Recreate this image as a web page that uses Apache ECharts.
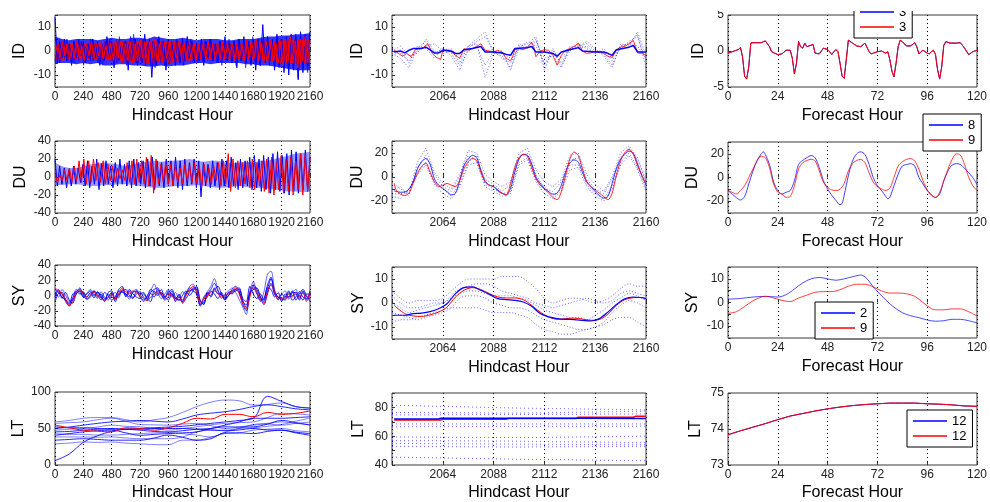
<!DOCTYPE html>
<html><head><meta charset="utf-8">
<script src="https://cdn.jsdelivr.net/npm/echarts@6/dist/echarts.min.js"></script>
<style>html,body{margin:0;padding:0;background:#fff}#c{width:990px;height:502px}</style>
</head><body><div id="c"></div>
<script>
// ---------------- DATA ----------------
// Column 1 (hindcast 0-2160 h), evenly spaced samples
const idHindBlue = [14,-5,4,-3,5,-4,3,-6,4,-3,5,-2,4,-5,3,-4,5,-3,4,-6,3,-4,6,-3,4,-7,5,-4,3,-5,4,-8,6,-4,5,-6,3,-5,7,-4,5,-11,4,-6,6,-5,4,-8,5,-4,3,-6,4,-5,5,-4,6,-3,4,-5,3,-4,5,-6,4,-3,5,-4,3,-5,4,-3,6,-4,3,-5,4,-7,5,-4,6,-5,4,-6,5,-8,5,-6,11,-5,6,-4,5,-8,7,-6,5,-9,6,-10,7,-8,6,-12,8,-9,7,-6,8];
const idHindBlue2 = [-4,3,-5,4,-3,5,-4,2,-5,3,-4,4,-6,2,-3,5,-4,3,-5,2,-6,4,-3,5,-4,3,-5,6,-3,4,-6,3,-4,7,-5,3,-4,5,-6,3,-5,4,-7,5,-3,4,-6,3,-5,4,-3,5,-4,3,-6,4,-3,5,-4,2,-5,3,-4,4,-3,5,-4,3,-5,4,-6,3,-4,5,-3,4,-6,5,-4,3,-7,4,-5,6,-4,5,-6,4,-5,3,-6,5,-4,6,-7,5,-6,4,-8,6,-5,7,-11,5,-7,6,-9,5];
const idHindRed = [-2,3,-3,4,-2,3,-4,2,-3,4,-3,2,-4,3,-2,4,-3,3,-2,4,-3,2,-3,3,-4,5,-3,4,-5,3,-4,4,-5,3,-4,5,-3,4,-5,4,-3,5,-4,3,-5,4,-3,4,-5,3,-3,4,-2,3,-3,2,-3,3,-4,3,-2,3,-3,4,-2,3,-3,2,-3,4,-3,2,-2,3,-4,2,-3,3,-4,5,-3,4,-3,5,-4,3,-5,4,-3,5,-4,3,-5,4,-6,5,-4,6,-5,4,-7,5,-4,6,-5,4];
// ID hindcast envelopes, every 60 h
const idBlueUpper = [6,5,4.5,5,5,5,4.5,5,5.5,5,5,5.5,5.5,5,6,5.5,5,5,5.5,5,4.5,5,5,5,4.5,4.5,5,5,5,5.5,6,6,6.5,6.5,7,7,7.5];
const idBlueLower = [-5,-5,-5,-5.5,-5,-5.5,-5,-6,-6,-5.5,-5.5,-6,-6,-6.5,-6.5,-6,-6.5,-6,-6,-5.5,-5,-5,-5.5,-5,-5,-5,-5,-5.5,-5.5,-6,-6,-6.5,-7,-7.5,-8,-8,-8];
const idRedUpper = [3.5,3,3,3.5,3,3.5,3,3.5,3.5,3.5,4,4,4,4,4.5,4,4,4,3.5,3.5,3,3,3.5,3,3,3,3,3.5,3.5,4,4,4,4.5,4.5,4.5,5,4.5];
const idRedLower = [-3.5,-4,-3.5,-3.5,-3,-3.5,-3.5,-3.5,-4,-4,-4,-4.5,-4.5,-5,-5,-4.5,-5,-4.5,-4,-4,-3.5,-3.5,-3.5,-3,-3.5,-3,-3.5,-3.5,-4,-4,-4,-4.5,-5,-5,-5.5,-5.5,-5];
const duHindBlue = [20,-10,12,-8,10,-12,8,-10,12,-8,10,-6,14,-10,18,-12,12,-8,20,-14,15,-10,18,-8,12,-12,16,-10,20,-8,14,-10,18,-12,20,-10,16,-8,18,-12,20,-10,22,-14,18,-10,16,-12,20,-8,18,-10,22,-12,18,-14,20,-10,16,-8,20,-12,18,-22,16,-10,14,-12,18,-10,16,-14,20,-10,18,-12,22,-10,16,-14,20,-12,18,-10,22,-14,24,-12,20,-16,24,-14,22,-18,26,-14,28,-16,24,-18,26,-20,30,-16,28,-18,26,-14,30,-16,22];
const duHindRed = [4,-6,2,-4,8,-4,10,-6,12,-4,18,-6,20,-8,18,-6,20,-4,16,-6,18,-8,14,-4,12,-6,10,-2,8,-4,16,-6,18,-8,20,-6,18,-8,22,-10,24,-18,20,-8,14,-6,16,-8,14,-10,12,-6,10,-8,14,-4,12,-6,16,-8,12,-10,14,-6,10,-8,12,-4,16,-10,18,-8,26,-16,20,-12,18,-10,16,-8,18,-12,20,-14,16,-10,18,-16,20,-18,22,-20,16,-14,24,-18,20,-16,22,-20,18,-14,26,-20,24,-16,22];
// DU hindcast blue envelope, every 60 h
const duBlueUpper = [16,12,10,10,12,14,15,16,15,14,12,14,16,17,18,17,18,18,19,20,18,17,18,18,16,15,16,17,16,18,18,20,22,24,26,27,28];
const duBlueLower = [-9,-9,-8,-8,-9,-10,-10,-9,-9,-8,-8,-9,-10,-11,-12,-12,-11,-10,-10,-10,-9,-10,-11,-12,-12,-11,-10,-11,-12,-12,-13,-14,-15,-16,-16,-17,-16];
// SY hindcast, every 30 h
const syHindRed = [10,6,2,-5,-13,-8,5,8,2,-2,2,4,0,-3,-7,-3,2,-6,3,10,5,3,6,4,0,-4,-7,-2,2,5,3,-3,2,0,-6,-2,-9,0,8,12,5,-10,-5,0,4,6,3,-2,0,2,5,10,2,-10,-18,-2,12,5,-5,-10,5,14,5,-5,-3,-5,2,-2,4,-2,3,-6,4];
const syHindBlue = [
  [5,-2,8,0,-8,-3,8,4,-2,3,8,2,-4,5,-2,-6,0,4,-3,8,2,-5,5,8,-2,-8,0,6,15,4,-4,2,8,-2,4,-4,5,2,12,15,2,-12,-2,5,12,22,8,-4,2,6,10,4,-5,-15,-25,5,18,4,-8,5,28,32,8,-6,2,6,-5,4,8,-4,5,-8,2],
  [-8,3,4,-6,-12,2,4,10,0,-5,-2,6,2,-6,4,0,-6,-2,8,12,-2,6,-3,2,5,-2,-6,3,-2,8,2,-6,-2,6,-8,2,-10,-4,4,10,8,-14,-8,-2,6,2,-4,4,-4,0,8,12,6,-8,-12,2,8,10,-2,-12,2,16,2,-2,-6,-2,6,-6,-2,5,-2,-4,6],
  [2,8,-4,4,-6,-10,2,6,5,-2,4,-3,5,0,-8,4,6,-4,0,6,8,0,-4,6,2,4,-4,-8,6,2,8,-2,4,8,-2,-6,0,6,0,6,12,-6,-12,4,-2,8,12,2,-6,4,2,8,10,-4,-8,12,2,-4,2,-6,10,8,-2,4,-8,2,-2,6,-6,2,8,0,-8],
  [8,4,-2,-6,-10,-4,6,2,4,-4,0,6,-2,2,-4,-2,4,-8,2,6,0,8,2,-2,-4,2,-4,4,8,10,0,-4,6,2,-4,-6,-6,4,6,8,10,-8,-10,2,8,16,6,0,-2,4,6,8,4,-12,-20,0,14,8,-2,-8,8,22,6,-2,-4,-6,4,0,2,-6,6,-2,-4],
  [-2,6,2,-8,-14,-6,2,6,-2,2,6,0,4,-2,-6,2,-2,-4,6,4,2,-2,4,6,-2,-6,-2,8,4,0,4,-2,-6,2,-4,0,-8,2,10,6,2,-12,-4,2,0,10,2,2,-6,0,4,6,8,-6,-16,4,10,2,-6,-4,14,24,2,-4,2,-2,-2,4,4,0,-6,2,2]
];
// LT hindcast, every 120 h
const ltHours = [0,120,240,360,480,600,720,840,960,1080,1200,1320,1440,1560,1680,1800,1920,2040,2160];
const ltHindRed = [54.6,51,47.7,46.3,45.4,51,50,47.7,51,57,64,63,69.4,69.4,66,72,69.4,70.8,74];
const ltHindBlue = [
  [59,61,64,65,65,62,59,62,65,72,80,86,89,88,82,83,85,80,78],
  [6,15,31,40,46,49,50,51,52,53,55,57,59,61,64,94,87,80,78],
  [29,30,31.5,31,31.5,30,29,28,27.8,34,34,38,43,44,47.7,49,50,47,45.4],
  [34,35,36,35,34,34,34,37,41,38,34,36,44,44,43,46,47.7,45,43],
  [43,42,42,41,41,42,43,44,44.4,43,41,38.4,45,50,55.5,57,59,57,55.5],
  [50,52,54.6,57,59,60,61,60,59,63,68.5,71,73,76,80,82.4,80,77,75.5],
  [47.7,49,50,52,54.6,53,52.3,50,47.7,50,52.3,55,57,58,59,65,70.8,70,68.5],
  [40.7,43,45.4,47,47.7,44,40.7,42,43,44,45.4,50,54.6,59,64,64,64,65,66],
  [57,58,59,62,64,60,55.5,55,54.6,56,57,54,50,52,54.6,56,54.6,57,59],
  [45.4,46,47.7,49,50,49,47.7,46,45.4,47,49,50,52.3,52,52.3,56,61,58,54.6],
  [38.4,38.4,38.4,38,38.4,37,36,36,36,38.4,45.4,47.7,47.7,50,51,53,55.5,60,64],
  [52.3,51,51,50,49,49,49,50,50,50,49,48,47,48,50,48,47.7,44,40.7]
];
// Column 2 (last 120 h of hindcast)
const idZoomRedH = [2041,2043,2045,2047,2049,2051,2053,2055,2057,2059,2061,2063,2064,2066,2068,2070,2072,2074,2076,2078,2080,2082,2084,2086,2088,2090,2092,2094,2096,2097,2098,2100,2102,2104,2106,2107,2108,2110,2112,2114,2116,2118,2119,2120,2122,2124,2126,2128,2130,2132,2134,2136,2138,2140,2142,2144,2146,2148,2150,2152,2154,2156,2158,2160];
const idZoomRed = [0.3,-1,-2.2,-1,-2.4,0.5,1,1.6,3,-1,-2.7,-3.5,0.3,0.5,-0.4,-1.8,-3.1,1,0.3,1,1.9,3,0.3,0,-0.4,0.3,-0.4,-3.1,-4.1,-2.4,0.5,1,0.5,1.6,3.7,1.6,-2.4,0,0.5,0.3,-1.8,-5.9,-3.8,-1.8,0.3,1,1.9,3.3,0,-1,-0.8,0,-0.4,-1,-2.2,-2.7,0.5,1.6,1.9,3,4.4,-0.8,-1,-1.8];
const idZoomBlueH = [2041,2044,2046,2048,2050,2054,2056,2058,2060,2062,2064,2068,2070,2072,2074,2078,2082,2084,2088,2092,2094,2096,2098,2104,2106,2108,2112,2116,2118,2120,2124,2128,2130,2136,2140,2142,2144,2146,2152,2154,2156,2160];
const idZoomBlue = [-0.4,0,-0.8,0.3,1,1,1.6,0.5,-0.8,-0.8,0.3,0,-1,-1,0.5,1,1.9,-0.4,-0.4,-0.8,-1.4,-1.8,1,1.4,1.9,-0.4,-0.4,-1,-2.2,-0.4,0.5,1.4,0,-0.4,-0.4,-1,-1.8,0.5,1.6,2.3,-0.4,-0.4];
const ensHours = [2040,2044,2048,2052,2056,2060,2064,2068,2072,2076,2080,2084,2088,2092,2096,2100,2104,2108,2112,2116,2120,2124,2128,2132,2136,2140,2144,2148,2152,2156,2160];
const idZoomEns = [
  [1,-1,-4,0,2,3,0,1,-5,2,3,-11,-1,-2,-7,1,2,5,-6,-1,-5,1,2,3,0,-1,-6,2,3,7,-7],
  [-1,-3,-7,1,4,-1,1,-2,-8,1,4,6,0,-3,-5,2,3,6,-8,1,-6,0,3,1,-1,0,-4,1,4,6,-4],
  [0,2,-2,-1,5,0,-1,0,-3,2,5,8,-1,0,-8,3,1,4,-3,-2,-7,2,2,4,1,-2,-7,3,2,8,-2],
  [-2,0,-5,2,1,-3,1,-1,-6,0,2,-6,0,-1,-3,1,4,2,-5,0,-3,1,1,2,-1,1,-3,2,3,2,-3]
];
const duZoomH = [2041,2042,2044,2046,2048,2050,2052,2054,2056,2058,2060,2062,2064,2066,2068,2070,2072,2074,2076,2078,2080,2082,2084,2086,2088,2090,2092,2094,2096,2098,2100,2102,2104,2106,2108,2110,2112,2114,2116,2118,2120,2122,2124,2126,2128,2130,2132,2134,2136,2138,2140,2142,2144,2146,2148,2150,2152,2154,2156,2158,2160];
const duZoomRed = [-5.4,-11,-14.3,-15.4,-13.5,-5.4,2.7,8.9,11.6,4,-4,-8,-6.8,-5.4,-6.8,-8,-2.7,6.8,12.7,15.4,13.5,4,-4,-6.8,-8,-11.6,-13.5,-14.9,-5.4,8,16.2,18.9,17,8,-1.4,-6.8,-10,-13.5,-17,-18.9,-12.2,1.4,14.9,20.8,18,6.8,-4,-8,-10.8,-13.5,-16.2,-18.9,-13.5,1.4,13.5,20.3,23,18.9,9.5,1.4,-5.4];
const duZoomBlue = [-11.6,-12,-12.7,-12.5,-10,-4,6.8,12.7,15.4,10.8,-1.4,-6.8,-9.5,-12.2,-14.9,-13.5,-2.7,9.5,14.9,18,16.2,5.4,-3.5,-6.8,-8,-10.8,-13.5,-14.9,-9.5,4,14.9,18.9,18,10.8,0,-5.4,-9.5,-12.2,-14.3,-13.5,-6.8,4,11.6,14.3,12.2,4,-4,-8,-12.2,-15.4,-17.6,-16.2,-5.4,6.8,14.9,18.9,21.6,19.7,10.8,1.4,-6.8];
const duZoomEns = [
  [-4,-10,-14,12,24,4,-5,-10,2,22,20,2,-4,-8,-4,20,24,6,-4,-8,-2,18,20,2,-6,-12,0,20,26,16,-2],
  [-16,-18,-10,2,10,-6,-14,-18,-8,10,12,-8,-12,-16,-14,10,14,-4,-14,-18,-12,6,8,-8,-16,-20,-10,10,18,6,-12],
  [-10,-8,-16,8,18,2,-8,-12,0,18,14,-2,-6,-12,-6,16,20,2,-10,-12,-4,14,16,-2,-10,-14,-2,16,24,14,-4],
  [-14,-14,-12,4,12,-4,-10,-16,-6,12,18,-6,-10,-14,-12,12,16,-2,-8,-16,-10,10,10,-6,-14,-18,-8,12,20,8,-10]
];
const syZoomH = [2041,2046,2050,2054,2058,2062,2066,2070,2074,2078,2082,2086,2090,2094,2098,2102,2106,2110,2114,2118,2122,2126,2130,2134,2138,2142,2146,2150,2154,2158,2160];
const syZoomRed = [-1,-4.4,-5.4,-5.6,-4.9,-3.8,-1.7,2.5,5.3,6.4,5.6,3.9,2.5,2.1,2.1,1.4,-1,-3.8,-5.8,-6.8,-6.5,-6.3,-6.7,-7.2,-6.9,-4.7,-1,1.4,2.2,2.3,1.8];
const syZoomBlue = [-5.1,-5.1,-4.4,-4.2,-3.6,-2.4,-0.3,3.9,6.4,6.7,5.3,3.6,1.8,1.4,1.1,0.4,-1.4,-4.4,-5.8,-6.5,-6.8,-6.9,-7.2,-7.5,-6.5,-3.8,-0.6,1.8,2.5,2.2,1.8];
const syZoomEns = [
  [5,2,0,1,1,1,2,5,8,10,10,10,10,11,11,11,9,6,2,0,1,2,2,1,0,1,3,6,8,7,7],
  [-8,-7,-7,-6,-5,-4,-3,-2,-2,-2,-2,-3,-4,-4,-4,-5,-6,-9,-11,-12,-13,-13,-12,-11,-10,-9,-7,-6,-6,-8,-10],
  [3,0,-2,-2,-1,0,0,3,6,7,8,8,7,5,4,3,2,0,-1,-2,-1,0,1,2,1,0,1,4,5,4,3],
  [-4,-5,-6,-7,-6,-5,-4,-2,2,3,3,2,0,-1,-2,-2,-3,-5,-7,-8,-9,-10,-11,-11,-10,-8,-4,-1,1,0,-2],
  [0,-2,-4,-3,-2,-1,0,2,4,5,5,4,3,3,3,2,1,-1,-3,-4,-5,-6,-6,-7,-5,-3,0,2,4,3,1]
];
const ltZoomBlueH = [2041,2062,2063,2094,2128,2160];
const ltZoomBlue = [72.0,72.0,72.5,72.5,72.4,72.3];
const ltZoomRedH = [2041,2063,2064,2094,2095,2127,2128,2154,2155,2160];
const ltZoomRed = [71.3,71.3,71.8,71.8,72.3,72.3,73.2,73.2,73.8,73.8];
const ltEnsH = [2040,2100,2160];
const ltZoomEns = [[81.5,79.5,78.3],[76.5,76,77.4],[74.8,75,75.5],[68.5,68.5,68.5],[66.5,66.8,67],[59.5,59,60],[57,56.5,55.5],[55,54.5,54],[53,52.5,53],[45.5,44,43]];
// Column 3 (forecast 0-120 h)
const idFcH = [0,3,5,6,7,8,9,10,11,12,16,18,20,21,24,26,28,30,31,32,33,34,35,36,37,38,40,41,42,44,46,48,49,50,51,52,53,54,55,56,57,58,60,62,64,66,68,69,70,72,74,76,77,78,79,80,81,82,83,84,86,88,90,91,92,93,94,96,97,98,99,100,101,102,103,104,105,107,110,112,114,116,118,120];
const idFc = [-0.3,0,0.2,0.5,-0.8,-3.5,-3.9,-2.2,1.1,1.15,1.15,1.4,0.6,-0.1,-0.5,-0.4,0.1,0.1,-1,-3.2,-1.7,1.3,0.6,0.4,1.1,0.6,0.8,0.9,-0.3,-0.4,0.4,0.2,-0.1,-0.5,-0.1,0.2,-0.1,-1.7,-3.5,-3.8,-1.2,1.5,1.1,0.7,0.6,1.1,-0.1,-0.4,-0.3,-0.1,0,-0.3,-0.1,-1.2,-2.8,-3.6,-1.7,0.6,1.5,1.3,0.7,0.7,1.15,0.6,-0.4,-0.1,0.1,-0.3,-0.4,-0.1,0.1,-0.5,-2.6,-3.9,-2.2,0.8,1.3,1.1,1.1,1.15,0.4,-0.5,-0.1,0.1];
const duFcBlueH = [0,2,4,6,8,10,12,14,16,17,18,20,22,24,26,28,30,32,34,36,38,40,42,44,46,48,50,52,54,55,56,58,60,62,64,66,68,70,72,74,76,77,78,80,82,84,86,88,90,92,94,96,98,100,102,104,106,108,110,112,114,116,118,120];
const duFcBlue = [-11,-14,-17,-19,-16,-5.5,5.5,14.4,20,21.7,19.4,11,-4,-11,-14,-12.5,-11,-2.8,11,14.4,16.7,18.6,16.7,8.3,-2.8,-9.7,-15,-19.4,-23,-22,-15,1.4,13.9,20,21.7,19.4,11,0,-7,-11,-16,-18,-16.7,-7,2.8,9.7,11,11.7,9.7,0,-5.5,-11,-14.4,-17,-14,-2.8,5.5,10.5,11.7,11,7.8,4,0,-6];
const duFcRedH = [0,2,4,6,8,10,12,14,16,18,20,22,24,26,28,30,32,34,36,38,40,42,44,46,48,50,52,54,56,58,60,62,64,66,68,70,72,74,76,78,80,82,84,86,88,90,92,94,96,98,100,102,104,106,108,110,112,114,116,118,120];
const duFcRed = [-11,-12.5,-14,-11,-7,0,7,14,18,16.7,8.3,-5.5,-12.5,-14,-16.7,-16,-7,7,12.5,14.4,15.3,14,5.5,-4,-8.3,-10.5,-11,-10,-5,5.5,11.7,14.4,15.3,12.5,4,-4,-7.8,-9.7,-11,-8.9,0,9.7,13.3,15.3,16,14,7,-2.8,-10.5,-15.3,-16.7,-12.5,-2.8,7,15.3,20,19,11,0,-7,-11];
const syFcBlueH = [0,6,12,18,24,28,32,36,40,44,48,52,56,60,64,66,68,70,72,76,80,84,88,92,96,100,104,108,112,116,120];
const syFcBlue = [1.4,1.7,2.3,2.6,2.3,3.3,5.7,8.3,10,10.6,10,9.4,10,10.9,11.6,10.9,9,6.6,4.7,1.1,-2,-4.3,-5.6,-6.4,-7.4,-7.9,-7.7,-7.1,-7.1,-7.7,-8.6];
const syFcRedH = [0,4,8,12,16,18,22,26,30,34,38,42,46,50,54,58,62,66,70,74,78,82,86,90,94,98,100,104,108,112,116,120];
const syFcRed = [-4.6,-3.9,-1.7,0.7,2.3,2.6,1.9,0.9,0.4,1.9,3.1,4.3,4.6,4.6,5.4,6.9,7.7,7.7,6.6,4.9,4,4,3.7,2.6,0,-2.6,-3.1,-3.1,-2.7,-2.7,-3.9,-5.7];
const ltFcH = [0,6,12,18,24,30,36,42,48,54,60,66,72,78,84,90,96,102,108,114,120];
const ltFc = [73.84,73.95,74.05,74.15,74.26,74.36,74.43,74.5,74.56,74.61,74.65,74.68,74.7,74.72,74.72,74.72,74.7,74.69,74.67,74.64,74.63];
// Legend labels
const legendLabels = {id:['3','3'], du:['8','9'], sy:['2','9'], lt:['12','12']};

// ---------------- CHART BUILD ----------------
const FONT = "'Liberation Sans', Arial, Helvetica, sans-serif";
const BLUE = '#0000ff', RED = '#ff0000';
const grids = [], xAxes = [], yAxes = [], series = [];
const zip = (xs, ys) => ys.map((y, i) => [xs[i], y]);
const spread = (ys, x0, x1) => ys.map((y, i) => [x0 + (x1 - x0) * i / (ys.length - 1), y]);
const isStep = (v, s) => Math.abs(v / s - Math.round(v / s)) < 1e-6;

function panel(p) {
  const idx = grids.length;
  grids.push({left: p.left, top: p.top, width: p.width, height: p.height, show: true,
    borderColor: '#3a3a3a', borderWidth: 1, backgroundColor: '#fff'});
  xAxes.push({type: 'value', gridIndex: idx, min: p.xmin, max: p.xmax, interval: p.xint,
    name: p.xname, nameLocation: 'middle', nameGap: p.xgap,
    nameTextStyle: {fontSize: 16, color: '#000', fontFamily: FONT},
    axisLine: {show: false},
    axisTick: {show: true, inside: true, length: 3, lineStyle: {color: '#333'}},
    axisLabel: {fontSize: 12, color: '#222', fontFamily: FONT, margin: 4, hideOverlap: false,
      showMinLabel: true, showMaxLabel: true,
      formatter: v => (p.xhideMin && v === p.xmin) ? '' : String(v)},
    splitLine: {show: true, lineStyle: {type: [1, 3], color: '#000', width: 1}}});
  yAxes.push({type: 'value', gridIndex: idx, min: p.ymin, max: p.ymax, interval: p.yint,
    name: p.yname, nameLocation: 'middle', nameGap: p.ygap, nameRotate: 90,
    nameTextStyle: {fontSize: 16, color: '#000', fontFamily: FONT},
    axisLine: {show: false},
    axisTick: {show: true, inside: true, length: 3, lineStyle: {color: '#333'}},
    axisLabel: {fontSize: 12, color: '#222', fontFamily: FONT, margin: 4,
      showMinLabel: true, showMaxLabel: true,
      formatter: v => isStep(v, p.ystep) ? String(v) : ''},
    splitLine: {show: false}});
  return idx;
}
function line(gi, data, color, o = {}) {
  series.push(Object.assign({type: 'line', xAxisIndex: gi, yAxisIndex: gi, data: data,
    symbol: 'none', silent: true, animation: false, clip: true,
    lineStyle: {color: color, width: o.width || 1, opacity: o.opacity == null ? 1 : o.opacity, type: o.dash || 'solid'},
    itemStyle: {color: color}}, o.extra || {}));
}
// Filled envelope: upper (>0) and lower (<0) each filled towards the zero line
function band(gi, lo, hi, x0, x1, color, opacity) {
  [hi, lo].forEach(arr => series.push({type: 'line', xAxisIndex: gi, yAxisIndex: gi, data: spread(arr, x0, x1),
    symbol: 'none', silent: true, animation: false, lineStyle: {opacity: 0}, itemStyle: {color: color},
    areaStyle: {color: color, opacity: opacity, origin: 0}}));
}

const C1 = {left: 55, width: 255, xmin: 0, xmax: 2160, xint: 240, xname: 'Hindcast Hour'};
const C2 = {left: 392, width: 254, xmin: 2040, xmax: 2160, xint: 24, xhideMin: true, xname: 'Hindcast Hour'};
const C3 = {left: 728, width: 254, xmin: 0, xmax: 120, xint: 24, xname: 'Forecast Hour'};

// Row 1: ID
let g = panel(Object.assign({}, C1, {top: 15, height: 72, ymin: -15, ymax: 15, yint: 5, ystep: 10, yname: 'ID', ygap: 27, xgap: 21}));
band(g, idBlueLower, idBlueUpper, 0, 2160, BLUE, 0.8);
line(g, spread(idHindBlue2, 0, 2160), BLUE, {opacity: 0.6});
line(g, spread(idHindBlue, 0, 2160), BLUE);
band(g, idRedLower, idRedUpper, 0, 2160, RED, 0.95);
line(g, spread(idHindRed, 0, 2160), RED);
g = panel(Object.assign({}, C2, {top: 15, height: 72, ymin: -15, ymax: 15, yint: 5, ystep: 10, yname: 'ID', ygap: 26, xgap: 21}));
idZoomEns.forEach(e => line(g, zip(ensHours, e), BLUE, {dash: [1, 2], opacity: 0.6}));
line(g, zip(idZoomRedH, idZoomRed), RED, {opacity: 0.8});
line(g, zip(idZoomBlueH, idZoomBlue), BLUE, {width: 1.5});
g = panel(Object.assign({}, C3, {top: 15, height: 72, ymin: -5, ymax: 5, yint: 5, ystep: 5, yname: 'ID', ygap: 21, xgap: 21}));
line(g, zip(idFcH, idFc), BLUE, {extra: {name: 'a|' + legendLabels.id[0]}});
line(g, zip(idFcH, idFc), RED, {extra: {name: 'b|' + legendLabels.id[1]}});

// Row 2: DU
g = panel(Object.assign({}, C1, {top: 141, height: 72, ymin: -40, ymax: 40, yint: 20, ystep: 20, yname: 'DU', ygap: 26, xgap: 21}));
band(g, duBlueLower, duBlueUpper, 0, 2160, BLUE, 0.4);
line(g, spread(duHindBlue, 0, 2160), BLUE);
line(g, spread(duHindRed, 0, 2160), RED);
g = panel(Object.assign({}, C2, {top: 141, height: 72, ymin: -30, ymax: 30, yint: 10, ystep: 20, yname: 'DU', ygap: 26, xgap: 21}));
duZoomEns.forEach(e => line(g, zip(ensHours, e), BLUE, {dash: [1, 2], opacity: 0.6}));
line(g, zip(duZoomH, duZoomBlue), BLUE, {opacity: 0.8, extra: {smooth: 0.3}});
line(g, zip(duZoomH, duZoomRed), RED, {opacity: 0.85, extra: {smooth: 0.3}});
g = panel(Object.assign({}, C3, {top: 142, height: 71, ymin: -30, ymax: 30, yint: 10, ystep: 20, yname: 'DU', ygap: 27, xgap: 21}));
line(g, zip(duFcBlueH, duFcBlue), BLUE, {opacity: 0.75, extra: {smooth: 0.3, name: 'c|' + legendLabels.du[0]}});
line(g, zip(duFcRedH, duFcRed), RED, {opacity: 0.75, extra: {smooth: 0.3, name: 'd|' + legendLabels.du[1]}});

// Row 3: SY
g = panel(Object.assign({}, C1, {top: 265, height: 61, ymin: -40, ymax: 40, yint: 20, ystep: 20, yname: 'SY', ygap: 27, xgap: 21}));
syHindBlue.forEach((e, i) => line(g, spread(e, 0, 2160), BLUE, {opacity: i === 0 ? 0.6 : 0.9, extra: {smooth: 0.3}}));
line(g, spread(syHindRed, 0, 2160), RED, {extra: {smooth: 0.3}});
g = panel(Object.assign({}, C2, {top: 267, height: 72, ymin: -15, ymax: 15, yint: 5, ystep: 10, yname: 'SY', ygap: 25, xgap: 21}));
syZoomEns.forEach(e => line(g, zip(ensHours, e), BLUE, {dash: [1, 2], opacity: 0.6, extra: {smooth: 0.3}}));
line(g, zip(syZoomH, syZoomRed), RED, {extra: {smooth: 0.3}});
line(g, zip(syZoomH, syZoomBlue), BLUE, {width: 1.2, extra: {smooth: 0.3}});
g = panel(Object.assign({}, C3, {top: 267, height: 71, ymin: -15, ymax: 15, yint: 5, ystep: 10, yname: 'SY', ygap: 27, xgap: 21}));
line(g, zip(syFcBlueH, syFcBlue), BLUE, {opacity: 0.7, extra: {smooth: 0.3, name: 'e|' + legendLabels.sy[0]}});
line(g, zip(syFcRedH, syFcRed), RED, {opacity: 0.75, extra: {smooth: 0.3, name: 'f|' + legendLabels.sy[1]}});

// Row 4: LT
g = panel(Object.assign({}, C1, {top: 392, height: 73, ymin: 0, ymax: 100, yint: 50, ystep: 50, yname: 'LT', ygap: 26, xgap: 20}));
ltHindBlue.forEach((e, i) => line(g, zip(ltHours, e), BLUE, {opacity: i % 2 ? 0.85 : 0.5, extra: {smooth: 0.4}}));
line(g, zip(ltHours, ltHindRed), RED, {extra: {smooth: 0.4}});
g = panel(Object.assign({}, C2, {top: 393, height: 72, ymin: 40, ymax: 90, yint: 10, ystep: 20, yname: 'LT', ygap: 25, xgap: 20}));
ltZoomEns.forEach(e => line(g, zip(ltEnsH, e), BLUE, {dash: [1, 3], opacity: 0.6}));
line(g, zip(ltZoomRedH, ltZoomRed), RED, {width: 1.5});
line(g, zip(ltZoomBlueH, ltZoomBlue), BLUE, {width: 1.5});
g = panel(Object.assign({}, C3, {top: 393, height: 72, ymin: 73, ymax: 75, yint: 1, ystep: 1, yname: 'LT', ygap: 24, xgap: 20}));
line(g, zip(ltFcH, ltFc), BLUE, {extra: {name: 'g|' + legendLabels.lt[0]}});
line(g, zip(ltFcH, ltFc), RED, {extra: {name: 'h|' + legendLabels.lt[1]}});

function legend(names, left, top) {
  return {data: names, left: left, top: top, orient: 'vertical', selectedMode: false,
    backgroundColor: '#fff', borderColor: '#000', borderWidth: 1, borderRadius: 0,
    padding: [4, 6, 4, 6], itemGap: 1, itemWidth: 34, itemHeight: 1.5, icon: 'rect',
    textStyle: {fontSize: 13, color: '#000', fontFamily: FONT, lineHeight: 14},
    formatter: n => n.split('|')[1]};
}

const chart = echarts.init(document.getElementById('c'), null, {renderer: 'canvas'});
chart.setOption({
  animation: false,
  backgroundColor: '#fff',
  grid: grids, xAxis: xAxes, yAxis: yAxes, series: series,
  legend: [
    legend(['a|3', 'b|3'], 854, 1),
    legend(['c|8', 'd|9'], 923, 114),
    legend(['e|2', 'f|9'], 815, 302),
    legend(['g|12', 'h|12'], 907, 410)
  ],
  graphic: [{type: 'rect', shape: {x: 690, y: 0, width: 300, height: 11}, style: {fill: '#fff'}, z: 100, silent: true}]
});
</script></body></html>
